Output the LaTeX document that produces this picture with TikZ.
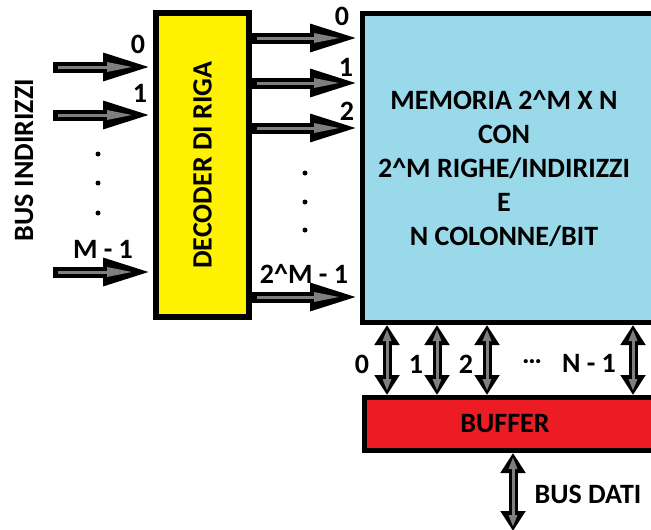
\documentclass[tikz,border=0pt]{standalone}
\usepackage{fontspec}
\setmainfont{Carlito}
\usetikzlibrary{arrows.meta}

\definecolor{decyellow}{RGB}{255,242,0}
\definecolor{memblue}{RGB}{153,217,234}
\definecolor{bufred}{RGB}{237,28,36}
\definecolor{arrowgray}{RGB}{127,127,127}

\tikzset{
  blockbox/.style={draw, line width=5pt, inner sep=0pt},
  bus/.style={line width=11pt, -{Triangle[length=50pt 0 0,width=25pt 0 0]}},
  businner/.style={line width=3pt, arrowgray, shorten <=5pt, shorten >=20pt,
    -{Triangle[length=26pt 0 0,width=9pt 0 0]}},
  dbus/.style={line width=9pt,
    {Triangle[length=20pt 0 0,width=24pt 0 0]}-{Triangle[length=20pt 0 0,width=24pt 0 0]}},
  dbusinner/.style={line width=3pt, arrowgray, shorten <=4pt, shorten >=4pt,
    {Triangle[length=12pt 0 0,width=8pt 0 0]}-{Triangle[length=12pt 0 0,width=8pt 0 0]}},
}

\begin{document}
\begin{tikzpicture}[x=1pt, y=-1pt, font=\fontsize{28}{34}\selectfont\bfseries]
  \useasboundingbox (0,0) rectangle (651,530);
  \clip (0,0) rectangle (651,530);
  % Blocks
  \node[blockbox, fill=decyellow, line width=6pt, minimum width=93pt, minimum height=304pt] (dec) at (202.5,165) {};
  \node[rotate=90] (dectext) at (dec.center) {DECODER DI RIGA};
  \node[blockbox, fill=memblue, minimum width=338pt, minimum height=309pt] (mem) at (531.5,168) {};
  \node[align=center] (memtext) at (504,168.5)
    {MEMORIA 2\textasciicircum M X N\\CON\\2\textasciicircum M RIGHE/INDIRIZZI\\E\\N COLONNE/BIT};
  \node[blockbox, fill=bufred, minimum width=338pt, minimum height=53pt] (buf) at (533.5,424) {};
  \node (buftext) at (505,424) {BUFFER};
  % Address bus into the decoder
  \node[rotate=90] (busind) at (24,160) {BUS INDIRIZZI};
  \foreach \y/\n in {67/0, 115/1, 272/2} {
    \coordinate (in\n) at (53,\y);
    \draw[bus] (in\n) -- (in\n -| dec.west);
    \draw[businner] (in\n) -- (in\n -| dec.west);
  }
  \node (a0) at (138,44) {0};
  \node (a1) at (140,93) {1};
  \node (am) at (103,249) {M - 1};
  \foreach \y in {154,183,213} \fill (98,\y) circle (2.5);
  % Row lines into the memory
  \foreach \y/\n in {38/0, 83/1, 128/2, 297/3} {
    \coordinate (row\n) at (0,\y);
    \draw[bus] (row\n -| dec.east) -- (row\n -| mem.west);
    \draw[businner] (row\n -| dec.east) -- (row\n -| mem.west);
  }
  \node (r0) at (342,16) {0};
  \node (r1) at (346,67) {1};
  \node (r2) at (347,111) {2};
  \node (rm) at (304,274) {2\textasciicircum M - 1};
  \foreach \y in {173,202,230} \fill (305,\y) circle (2.5);
  % Bit lines between memory and buffer
  \foreach \x/\n in {387/0, 437/1, 487/2, 633/3} {
    \coordinate (col\n) at (\x,0);
    \draw[dbus] (col\n |- mem.south) -- (col\n |- buf.north);
    \draw[dbusinner] (col\n |- mem.south) -- (col\n |- buf.north);
  }
  \node (b0) at (362,364) {0};
  \node (b1) at (416,364) {1};
  \node (b2) at (466,364) {2};
  \node (bdots) at (532,362) {…};
  \node (bn) at (589,363) {N - 1};
  % Data bus
  \coordinate (dati) at (513,531);
  \draw[dbus] (dati |- buf.south) -- (dati);
  \draw[dbusinner] (dati |- buf.south) -- (dati);
  \node (busdati) at (588,494) {BUS DATI};
\end{tikzpicture}
\end{document}
